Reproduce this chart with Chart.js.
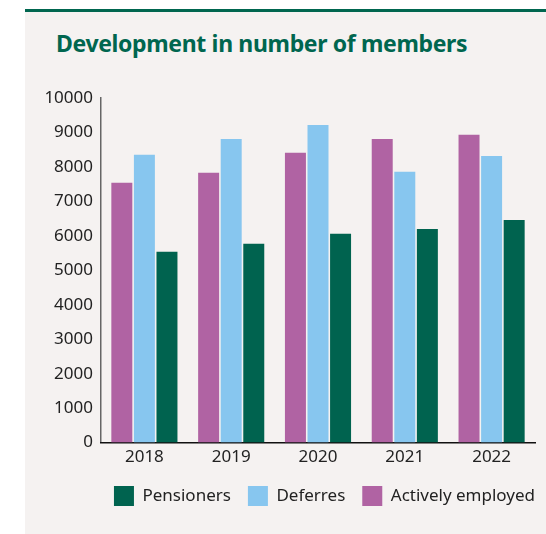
<!DOCTYPE html>
<html>
<head>
<meta charset="utf-8">
<script src="https://cdn.jsdelivr.net/npm/chart.js@4"></script>
<style>
  body { margin: 0; background: #ffffff; }
  .panel {
    position: absolute; left: 25px; top: 9px; width: 521px; height: 525px;
    background: #f5f2f1; border-top: 3px solid #00664f;
  }
  .panel h2 {
    position: absolute; left: 31px; top: 15px; margin: 0;
    font-family: "Noto Sans", sans-serif; font-weight: 700; font-size: 23px;
    letter-spacing: -0.35px; color: #00664f; white-space: nowrap;
  }
  .wrap { position: absolute; left: 0; top: 58px; width: 521px; height: 446px; }
</style>
</head>
<body>
<div class="panel">
  <h2>Development in number of members</h2>
  <div class="wrap"><canvas id="graficoMembros"></canvas></div>
</div>
<script>
const anos = ['2018', '2019', '2020', '2021', '2022'];
const ativos = [7540, 7830, 8410, 8810, 8930];
const diferidos = [8350, 8810, 9220, 7860, 8320];
const pensionistas = [5540, 5770, 6060, 6200, 6460];
const ticksY = [0, 1000, 2000, 3000, 4000, 5000, 6000, 7000, 8000, 9000, 10000];

const fonte = { family: 'Noto Sans', size: 17 };
const espacoLegenda = 17;

// empurra a legenda para a direita, encostando no fim do eixo x
const deslocaLegenda = {
    id: 'deslocaLegenda',
    afterLayout(chart) {
        chart.legend.left += espacoLegenda;
        chart.legend.right += espacoLegenda;
    }
};

const ctx = document.getElementById('graficoMembros').getContext('2d');
const grafico = new Chart(ctx, {
    type: 'bar',
    data: {
        labels: anos,
        datasets: [
            { label: 'Actively employed', data: ativos, backgroundColor: '#b063a3' },
            { label: 'Deferres', data: diferidos, backgroundColor: '#87c6ef' },
            { label: 'Pensioners', data: pensionistas, backgroundColor: '#00634f' }
        ]
    },
    options: {
        responsive: true,
        maintainAspectRatio: false,
        animation: false,
        datasets: { bar: { barPercentage: 0.93, categoryPercentage: 0.78 } },
        layout: { padding: { left: 0, right: 11, top: 28, bottom: 0 } },
        plugins: {
            tooltip: { enabled: false },
            legend: {
                position: 'bottom',
                align: 'end',
                reverse: true,
                labels: {
                    boxWidth: 20, boxHeight: 20, padding: espacoLegenda,
                    color: '#222', font: { family: 'Noto Sans', size: 17 }
                }
            }
        },
        scales: {
            y: {
                min: 0, max: 10000,
                afterBuildTicks: (s) => { s.ticks = ticksY.map(v => ({ value: v })); },
                afterFit: (s) => { s.width = 76; },
                grid: { display: false, drawTicks: false },
                border: { display: true, color: '#666', width: 1.5 },
                ticks: { color: '#222', font: fonte, padding: 8, callback: (v) => String(v) }
            },
            x: {
                afterFit: (s) => { s.height -= 2; },
                grid: { display: false, drawTicks: false },
                border: { display: true, color: '#111', width: 1.5 },
                ticks: { color: '#222', font: fonte, padding: 4 }
            }
        }
    },
    plugins: [deslocaLegenda]
});
</script>
</body>
</html>
